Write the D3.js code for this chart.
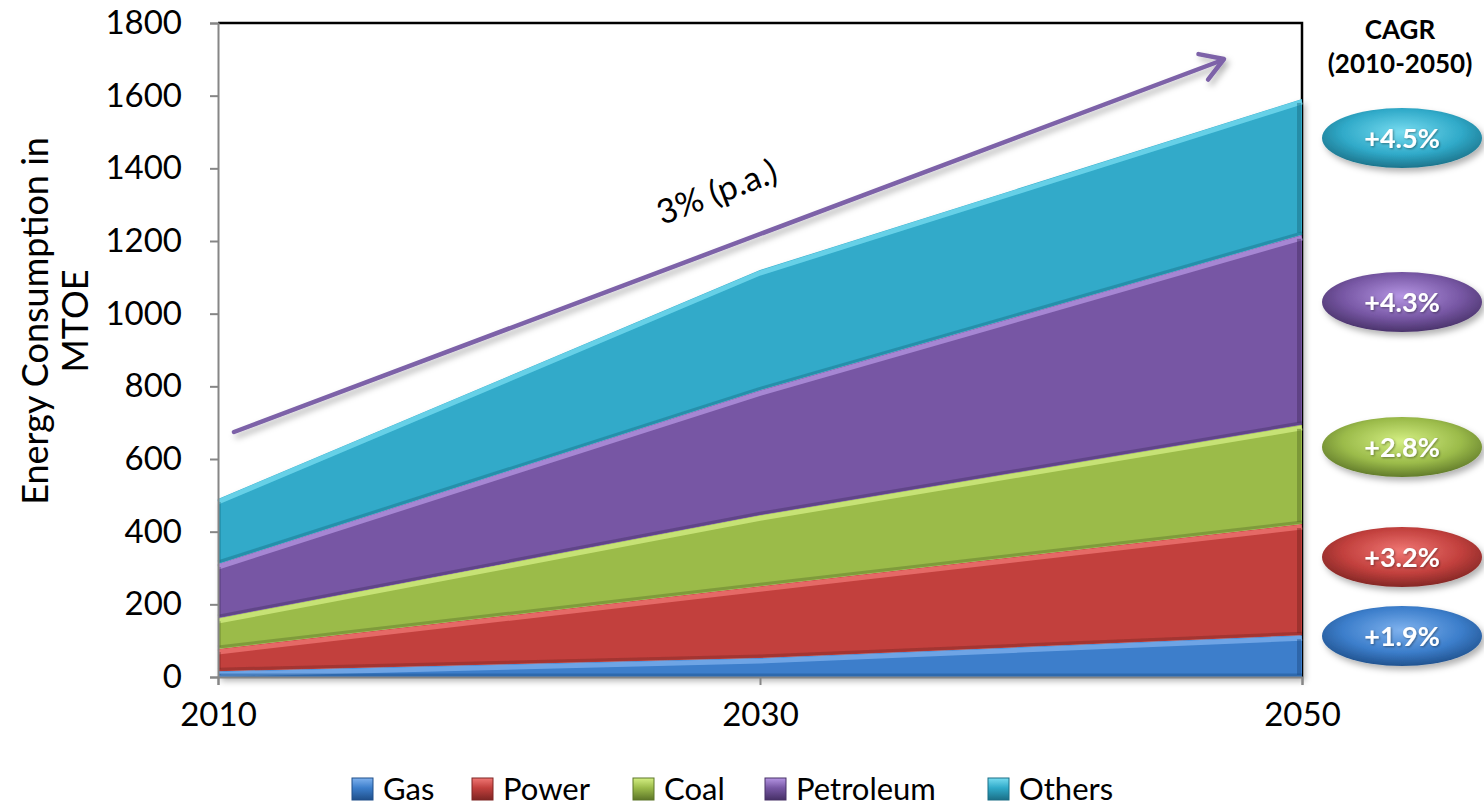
<!DOCTYPE html>
<html><head><meta charset="utf-8">
<script src="https://cdn.jsdelivr.net/npm/d3@7"></script>
<style>
html,body{margin:0;padding:0;background:#fff;}
svg{display:block;font-family:Lato,"Open Sans",sans-serif;}
</style></head>
<body>
<svg id="chart" width="1484" height="807"></svg>
<script>
// ---- data ----
const years = [2010, 2030, 2050];
const seriesNames = ["Gas", "Power", "Coal", "Petroleum", "Others"];
const gas = [16, 52, 115];
const power = [61, 198, 306];
const coal = [85, 195, 273];
const petroleum = [149, 344, 523];
const others = [179, 331, 374];
const cagrLabels = ["+1.9%", "+3.2%", "+2.8%", "+4.3%", "+4.5%"];
const yTicks = [0, 200, 400, 600, 800, 1000, 1200, 1400, 1600, 1800];
const xTicks = [2010, 2030, 2050];
const growthLabel = "3% (p.a.)";

const baseColors = ["#3c7ecb", "#c2403d", "#9bbb4a", "#7757a4", "#30aac9"];
const lightColors = ["#7fb2ee", "#f07774", "#d4ef83", "#b595e3", "#78dcf0"];
const darkColors = ["#1f4f8a", "#7e2523", "#5d7628", "#463066", "#1b6f86"];

const valuesBySeries = [gas, power, coal, petroleum, others];
const table = years.map((y, i) => {
  const row = {year: y};
  seriesNames.forEach((s, k) => row[s] = valuesBySeries[k][i]);
  return row;
});

const svg = d3.select("#chart");
const L = 218, R = 1302, T = 23, B = 677;
const x = d3.scaleLinear().domain([2010, 2050]).range([L, R]);
const y = d3.scaleLinear().domain([0, 1800]).range([B, T]);

const defs = svg.append("defs");
const f = defs.append("filter").attr("id", "shadow").attr("x", "-20%").attr("y", "-20%").attr("width", "140%").attr("height", "140%");
f.append("feDropShadow").attr("dx", 3).attr("dy", 4).attr("stdDeviation", 3).attr("flood-color", "#000").attr("flood-opacity", 0.3);
const ts = defs.append("filter").attr("id", "tshadow");
ts.append("feDropShadow").attr("dx", 1).attr("dy", 1).attr("stdDeviation", 1).attr("flood-color", "#000").attr("flood-opacity", 0.4);

// bubble gradients
seriesNames.forEach((s, k) => {
  const g = defs.append("radialGradient").attr("id", "bub" + k).attr("cx", "50%").attr("cy", "40%").attr("r", "62%");
  g.append("stop").attr("offset", "0%").attr("stop-color", lightColors[k]);
  g.append("stop").attr("offset", "60%").attr("stop-color", baseColors[k]);
  g.append("stop").attr("offset", "100%").attr("stop-color", darkColors[k]);
});

// plot border (top & right black)
svg.append("path")
  .attr("d", `M${L},${T}H${R}V${B}`)
  .attr("fill", "none").attr("stroke", "#000").attr("stroke-width", 2.5);

const stack = d3.stack().keys(seriesNames);
const layers = stack(table);

const area = d3.area().x(d => x(d.data.year)).y0(d => y(d[0])).y1(d => y(d[1]));
const topLine = d3.line().x(d => x(d.data.year)).y(d => y(d[1]));
const botLine = d3.line().x(d => x(d.data.year)).y(d => y(d[0]));

const gLayers = svg.append("g").attr("filter", "url(#shadow)");
layers.forEach((layer, k) => {
  gLayers.append("path").datum(layer).attr("d", area).attr("fill", baseColors[k]);
});
// bevel highlights
layers.forEach((layer, k) => {
  gLayers.append("path").datum(layer).attr("d", topLine)
    .attr("transform", "translate(0,3)")
    .attr("fill", "none").attr("stroke", lightColors[k]).attr("stroke-width", 5).attr("opacity", 0.75);
  gLayers.append("path").datum(layer).attr("d", botLine)
    .attr("transform", "translate(0,-2)")
    .attr("fill", "none").attr("stroke", darkColors[k]).attr("stroke-width", 3).attr("opacity", 0.45);
  const last = layer[layer.length - 1];
  gLayers.append("line")
    .attr("x1", x(last.data.year) - 3).attr("x2", x(last.data.year) - 3)
    .attr("y1", y(last[1]) + 4).attr("y2", y(last[0]) - 2)
    .attr("stroke", darkColors[k]).attr("stroke-width", 4).attr("opacity", 0.5);
  gLayers.append("line")
    .attr("x1", x(years[0]) + 2).attr("x2", x(years[0]) + 2)
    .attr("y1", y(layer[0][1]) + 3).attr("y2", y(layer[0][0]) - 2)
    .attr("stroke", darkColors[k]).attr("stroke-width", 2).attr("opacity", 0.35);
});

// axes
const yAxis = d3.axisLeft(y).tickValues(yTicks).tickSize(8).tickPadding(28).tickFormat(d3.format("d"));
const gy = svg.append("g").attr("transform", `translate(${L},0)`).call(yAxis);
gy.select(".domain").attr("stroke", "#868686").attr("stroke-width", 2);
gy.selectAll(".tick line").attr("stroke", "#868686").attr("stroke-width", 2);
gy.selectAll(".tick text").attr("font-size", 33).attr("fill", "#000").attr("font-family", "Lato");

const xAxis = d3.axisBottom(x).tickValues(xTicks).tickSize(8).tickPadding(18).tickFormat(d3.format("d"));
const gx = svg.append("g").attr("transform", `translate(0,${B})`).call(xAxis);
gx.select(".domain").attr("stroke", "#868686").attr("stroke-width", 2);
gx.selectAll(".tick line").attr("stroke", "#868686").attr("stroke-width", 2);
gx.selectAll(".tick text").attr("font-size", 33).attr("fill", "#000").attr("font-family", "Lato");

// y axis title
const yt = svg.append("text").attr("transform", "translate(48,321) rotate(-90)")
  .attr("text-anchor", "middle").attr("font-size", 36).attr("fill", "#000");
yt.append("tspan").attr("x", 0).attr("dy", 0).text("Energy Consumption in");
yt.append("tspan").attr("x", 0).attr("dy", 40).text("MTOE");

// growth arrow
const ga = svg.append("g").attr("filter", "url(#shadow)");
const ax0 = 234, ay0 = 432, ax1 = 1224, ay1 = 59;
ga.append("line").attr("x1", ax0).attr("y1", ay0).attr("x2", ax1 - 4).attr("y2", ay1 + 2)
  .attr("stroke", "#7d62a8").attr("stroke-width", 4.5).attr("stroke-linecap", "round");
const ang = Math.atan2(ay1 - ay0, ax1 - ax0);
const hl = 26, ha = 0.55;
ga.append("path")
  .attr("d", `M${ax1 - hl * Math.cos(ang - ha)},${ay1 - hl * Math.sin(ang - ha)}L${ax1},${ay1}L${ax1 - hl * Math.cos(ang + ha)},${ay1 - hl * Math.sin(ang + ha)}`)
  .attr("fill", "none").attr("stroke", "#7d62a8").attr("stroke-width", 4.5).attr("stroke-linecap", "round").attr("stroke-linejoin", "round");
svg.append("text").attr("transform", `translate(721,203) rotate(${ang * 180 / Math.PI})`)
  .attr("text-anchor", "middle").attr("font-size", 34).attr("fill", "#000").text(growthLabel);

// CAGR header
svg.append("text").attr("x", 1400).attr("y", 39).attr("text-anchor", "middle")
  .attr("font-size", 26).attr("font-weight", "bold").text("CAGR");
svg.append("text").attr("x", 1400).attr("y", 73).attr("text-anchor", "middle")
  .attr("font-size", 26).attr("font-weight", "bold").text("(2010-2050)");

// CAGR bubbles
const bubbleY = [636, 557, 447, 302, 138];
const gb = svg.append("g");
cagrLabels.forEach((lab, k) => {
  const g = gb.append("g").attr("transform", `translate(1402,${bubbleY[k]})`);
  g.append("ellipse").attr("rx", 80).attr("ry", 30).attr("fill", `url(#bub${k})`).attr("filter", "url(#shadow)");
  g.append("text").attr("text-anchor", "middle").attr("dy", "0.36em")
    .attr("font-size", 27).attr("font-weight", "bold").attr("fill", "#fff")
    .attr("filter", "url(#tshadow)").text(lab);
});

// legend
const legendX = [352, 472, 633, 765, 988];
const gl = svg.append("g");
seriesNames.forEach((s, k) => {
  const g = gl.append("g").attr("transform", `translate(${legendX[k]},777)`);
  const lg = defs.append("linearGradient").attr("id", "lg" + k).attr("x1", 0).attr("y1", 0).attr("x2", 0).attr("y2", 1);
  lg.append("stop").attr("offset", "0%").attr("stop-color", lightColors[k]);
  lg.append("stop").attr("offset", "45%").attr("stop-color", baseColors[k]);
  lg.append("stop").attr("offset", "100%").attr("stop-color", darkColors[k]);
  g.append("rect").attr("y", 1).attr("width", 21).attr("height", 22).attr("fill", `url(#lg${k})`).attr("stroke", darkColors[k]).attr("stroke-width", 1);
  g.append("text").attr("x", 31).attr("y", 23).attr("font-size", 31).attr("fill", "#000").text(s);
});
</script>
</body></html>
